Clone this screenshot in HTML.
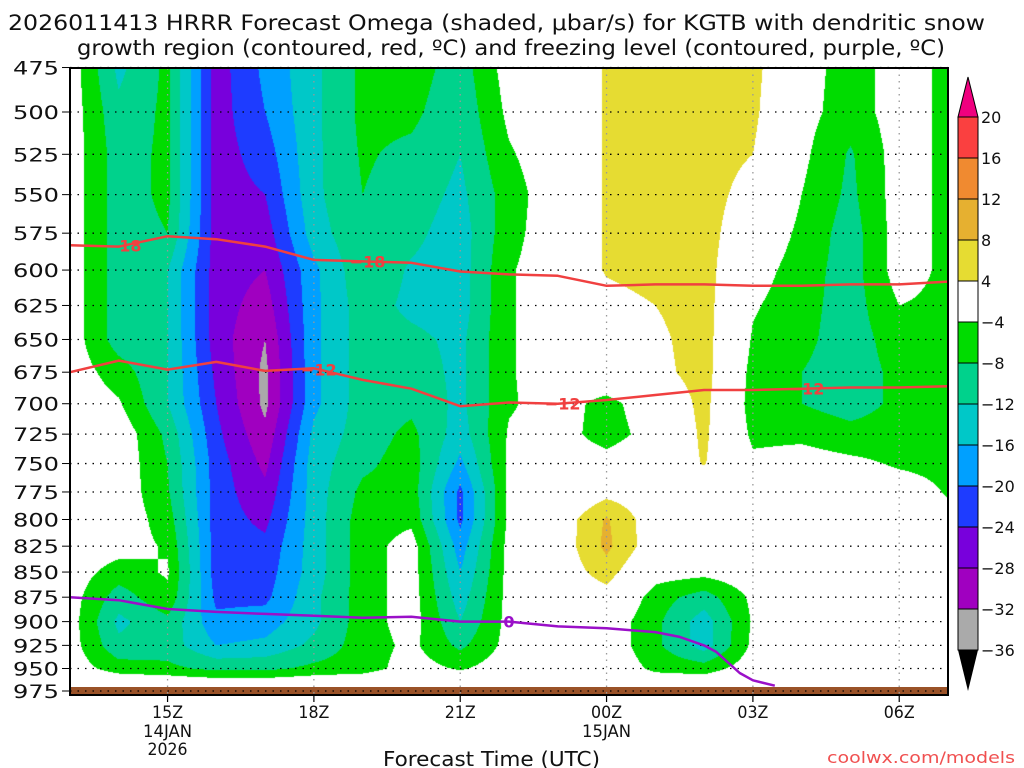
<!DOCTYPE html>
<html><head><meta charset="utf-8">
<style>
html,body{margin:0;padding:0;background:#fff;width:1024px;height:768px;overflow:hidden}
#wrap{position:relative;width:1024px;height:768px}
canvas{position:absolute;left:70px;top:68px}
svg{position:absolute;left:0;top:0}
text{font-family:"DejaVu Sans","Liberation Sans",sans-serif}
</style></head>
<body>
<div id="wrap">
<canvas id="cv" width="879" height="627"></canvas>
<svg id="sv" width="1024" height="768"></svg>
</div>
<script>
// ---- data ----
const times = [13,14,15,16,17,18,19,20,21,22,23,24,25,26,27,28,29,30,31];
const levels = [475,500,525,550,575,600,625,650,675,700,725,750,775,800,825,850,875,900,925,950,975];
// omega by time column, values at each level (microbar/s)
const omega = [
[-1.5,-1.5,-1.5,-1.5,-1.5,-1.5,-1.5,-1.5,-1.5,-1,-1,-1,-1,-1,-1,-1.5,-2,-2,-2,-1.5,2],
[-13,-11,-10,-10,-10,-10,-10,-10,-6,-3.5,-1,-1,-1,-1,-2,-6,-10,-13,-11,-6,3],
[-7,-7,-7,-7,-8,-12,-12,-12,-12,-12,-9,-8,-7.5,-6,-4.5,-3.5,-5,-9,-10,-7,3],
[-26,-26,-26,-26,-26,-26,-26,-26,-25,-24,-23,-22,-22,-22,-22,-22,-21,-19,-16,-9,3],
[-19,-20,-22,-24,-26,-28,-30,-32,-33,-33,-31,-29,-27,-25,-23,-22,-21,-18,-15,-9,3],
[-13,-13,-13,-13,-14,-17,-17,-17,-17,-17,-15,-14,-14,-14,-14,-14,-13,-13,-11,-7,3],
[-7,-7,-7.5,-8,-8.5,-9,-10,-10,-10,-10,-10,-9,-7,-6,-6,-6,-6,-6,-6,-6,3],
[-6,-7,-9,-10,-11,-12.5,-13,-11,-10,-9,-7,-6,-6,-5,-2,-2,-2,-2,-3,-2,2],
[-10,-11,-12,-13,-14,-14,-14,-13,-13,-13,-14,-17,-21,-21,-18,-16,-14,-12,-9,-4.5,2],
[-2,-3,-4.5,-6,-5.5,-4.5,-4.5,-4.5,-4.5,-4.5,-3.5,-3,-3,-3,-2.5,-2.5,-2.5,-2.5,-2.5,-1.5,1],
[-1,-1,-1,-1,-1,-1,-1,-1,-1,-2,-2,-1,-1,1,1,1,0,0,0,0,0],
[4.5,4.5,4.5,4.5,4.5,4.5,2,1,0,-5.5,-6,-2,2.5,8.5,9,6,2,-1,-1,-0.5,0],
[6,6,6,6,6,6,4,3,2.5,-1,-2,0,1,1,1,-2,-6,-7,-7,-5,1],
[6,6,6,6,6,6,6,6,6,5.5,5,4.3,0,0,0,-2.5,-10,-14,-14,-6,2],
[5.5,5,4,2,0,-2,-3.5,-4.5,-5.5,-6,-5,-3,-1,-1,-1,-1,-3,-3.5,-3,-1.5,1],
[-2,-2.5,-3,-4,-5,-6,-6.5,-7,-8,-8,-5,-2,-1,-1,-1,-1,-1.5,-2,-1.5,-1,0],
[-6,-6,-8.5,-9,-10,-10,-10,-10,-10,-10,-6.5,-3,-1,-1,-1,-1,-1,-1,-1,-1,0],
[-2,-2,-2,-2,-2,-2,-4,-6,-7,-7,-6,-4.5,-2,-1,-1,-1,-1,-1,-1,-1,0],
[-5,-5,-5,-5,-5,-5,-5,-5,-5,-5,-5,-5,-4.3,-3,-1,-1,-1,-1,-1,-1,0]
];
const m18Times = [13,14,15,16,17,18,19,20,21,22,23,24,25,26,27,28,29,30,31];
const m18Pres = [583,584,577,579,584,593,594,595,601,603,604,611,610,610,611,611,610,610,608];
const m12Times = [13,14,15,16,17,18,19,20,21,22,23,24,25,26,27,28,29,30,31];
const m12Pres = [675,666,673,667,674,672,681,688,702,699,700,697,693,689,689,688,687,687,686];
const zeroTimes = [13,14,15,16,17,18,19,20,21,22,23,24,25,25.5,26,26.25,26.73,27,27.45];
const zeroPres = [875,878,887,890,892,894,896,895,900,900,905,907,911,916,925,932,955,963,969];
const yTicks = [475,500,525,550,575,600,625,650,675,700,725,750,775,800,825,850,875,900,925,950,975];
const xTickTimes = [15,18,21,24,27,30];
const xTickLabels = ["15Z","18Z","21Z","00Z","03Z","06Z"];
const cbLevels = ["20","16","12","8","4","\u22124","\u22128","\u221212","\u221216","\u221220","\u221224","\u221228","\u221232","\u221236"];
const cbColors = ["#fa4040","#f08a30","#e6b030","#e6dc32","#ffffff","#00dc00","#00d28c","#00c8c8","#00a0ff","#1e3cff","#7800dc","#a000c0","#aaaaaa"];

// ---- axes ----
const X0=70, X1=948, T0=13, T1=31;
function xs(t){return X0+(t-T0)*(X1-X0)/(T1-T0);}
function ys(p){return 112+867*Math.log(p/500);}
function tFromX(x){return T0+(x-X0)*(T1-T0)/(X1-X0);}
function pFromY(y){return 500*Math.exp((y-112)/867);}
function colorFor(v){
  if(v>=20) return [240,0,128];
  const bounds=[16,12,8,4,-4,-8,-12,-16,-20,-24,-28,-32,-36];
  const cols=[[250,64,64],[240,138,48],[230,176,48],[230,220,50],[255,255,255],[0,220,0],[0,210,140],[0,200,200],[0,160,255],[30,60,255],[120,0,220],[160,0,192],[170,170,170]];
  for(let i=0;i<bounds.length;i++){ if(v>=bounds[i]) return cols[i]; }
  return [0,0,0];
}
function val(t,p){
  let fi=(t-times[0]); fi=Math.max(0,Math.min(times.length-1.0001,fi));
  let fj=(p-levels[0])/25; fj=Math.max(0,Math.min(levels.length-1.0001,fj));
  const i=Math.floor(fi), j=Math.floor(fj), a=fi-i, b=fj-j;
  const v00=omega[i][j], v10=omega[i+1][j], v01=omega[i][j+1], v11=omega[i+1][j+1];
  return v00*(1-a)*(1-b)+v10*a*(1-b)+v01*(1-a)*b+v11*a*b;
}
// ---- shading ----
const cv=document.getElementById('cv'), ctx=cv.getContext('2d');
const W=cv.width,H=cv.height, img=ctx.createImageData(W,H);
for(let py=0;py<H;py++){
  const p=pFromY(68+py+0.5);
  for(let px=0;px<W;px++){
    const c=colorFor(val(tFromX(70+px+0.5),p));
    const k=(py*W+px)*4; img.data[k]=c[0];img.data[k+1]=c[1];img.data[k+2]=c[2];img.data[k+3]=255;
  }
}
ctx.putImageData(img,0,0);

// ---- svg overlay ----
const NS='http://www.w3.org/2000/svg', sv=document.getElementById('sv');
function mk(tag,attrs,parent){const e=document.createElementNS(NS,tag);for(const k in attrs)e.setAttribute(k,attrs[k]);(parent||sv).appendChild(e);return e;}
// ground
const g=mk('rect',{x:70,y:687,width:878,height:8,fill:'#9a5228'});


// grid
yTicks.forEach(p=>{
  const l=mk('line',{x1:70,x2:948,y1:ys(p),y2:ys(p),stroke:'#000','stroke-width':1.3,'stroke-dasharray':'1.5 6'});
  
  
  const tk=mk('line',{x1:62,x2:70,y1:ys(p),y2:ys(p),stroke:'#000','stroke-width':1});
  
  
  const t=mk('text',{x:59,y:ys(p)+7,'text-anchor':'end','font-size':19,textLength:46,lengthAdjust:'spacingAndGlyphs',fill:'#111'});
  t.textContent=p;
  
  
});
xTickTimes.forEach((tt,i)=>{
  const x=xs(tt);
  const l=mk('line',{x1:x,x2:x,y1:68,y2:695,stroke:'#999','stroke-width':1.3,'stroke-dasharray':'1.5 5'});
  
  
  const tk=mk('line',{x1:x,x2:x,y1:695,y2:702,stroke:'#000','stroke-width':1.2});
  
  
  const t=mk('text',{x:x,y:718,'text-anchor':'middle','font-size':17,textLength:31,lengthAdjust:'spacingAndGlyphs',fill:'#111'});
  t.textContent=xTickLabels[i];
  
  
});
function dateLbl(x,y,s,w){const t=mk('text',{x:x,y:y,'text-anchor':'middle','font-size':17,textLength:w,lengthAdjust:'spacingAndGlyphs',fill:'#111'});t.textContent=s;
  
  }
dateLbl(xs(15),737,'14JAN',49);dateLbl(xs(15),755,'2026',40);dateLbl(xs(24),737,'15JAN',49);
// contour lines
function line(ts,ps,color,name){
  const d=ts.map((t,i)=>(i?'L':'M')+xs(t).toFixed(1)+' '+ys(ps[i]).toFixed(1)).join(' ');
  const e=mk('path',{d:d,fill:'none',stroke:color,'stroke-width':2.5,'stroke-linejoin':'round'});
  
  
}
line(m18Times,m18Pres,'#f04040','isotherm-minus18');
line(m12Times,m12Pres,'#f04040','isotherm-minus12');
line(zeroTimes,zeroPres,'#9a10c8','freezing-level');
function clabel(t,ts,ps,s,color){
  let i=0;while(i<ts.length-2&&ts[i+1]<t)i++;
  const f=(t-ts[i])/(ts[i+1]-ts[i]), p=ps[i]+(ps[i+1]-ps[i])*f;
  const x=xs(t),y=ys(p);
  const e=mk('text',{x:x,y:y+6,'text-anchor':'middle','font-size':16,'font-weight':'bold',fill:color});
  e.textContent=s;
  
  
}
clabel(14.1,m18Times,m18Pres,'\u221218','#f04040');
clabel(19.1,m18Times,m18Pres,'\u221218','#f04040');
clabel(18.1,m12Times,m12Pres,'\u221212','#f04040');
clabel(23.1,m12Times,m12Pres,'\u221212','#f04040');
clabel(28.1,m12Times,m12Pres,'\u221212','#f04040');
clabel(22.0,zeroTimes,zeroPres,'0','#9a10c8');
// border
const b=mk('rect',{x:70,y:68,width:878,height:627,fill:'none',stroke:'#000','stroke-width':2});


// colorbar
const cbx=958,cbw=20,cbTop=117,cbH=41;
const tri=mk('polygon',{points:`${cbx},${cbTop} ${cbx+cbw},${cbTop} ${cbx+cbw/2},77`,fill:'#f0007f',stroke:'#000','stroke-width':1});


cbColors.forEach((c,i)=>{
  const r=mk('rect',{x:cbx,y:cbTop+i*cbH,width:cbw,height:cbH,fill:c,stroke:'#000','stroke-width':1});
  
  
});
const tri2=mk('polygon',{points:`${cbx},${cbTop+13*cbH} ${cbx+cbw},${cbTop+13*cbH} ${cbx+cbw/2},691`,fill:'#000'});


cbLevels.forEach((s,i)=>{
  const t=mk('text',{x:981,y:cbTop+i*cbH+6,'font-size':16,fill:'#111'});
  t.textContent=s;
  
  
});
// titles
function txt(x,y,s,size,w,anchor,color,name){const t=mk('text',{x:x,y:y,'font-size':size,textLength:w,lengthAdjust:'spacingAndGlyphs','text-anchor':anchor,fill:color});t.textContent=s;
  
  }
txt(8,30,'2026011413 HRRR Forecast Omega (shaded, \u03bcbar/s) for KGTB with dendritic snow',21,977,'start','#111','chart-title-line1');
txt(77,55,'growth region (contoured, red, \u00baC) and freezing level (contoured, purple, \u00baC)',21,868,'start','#111','chart-title-line2');
txt(383,766,'Forecast Time (UTC)',20,217,'start','#111','x-axis-title');
txt(827,763,'coolwx.com/models',16,188,'start','#f05050','credit-text');
</script>
</body></html>
